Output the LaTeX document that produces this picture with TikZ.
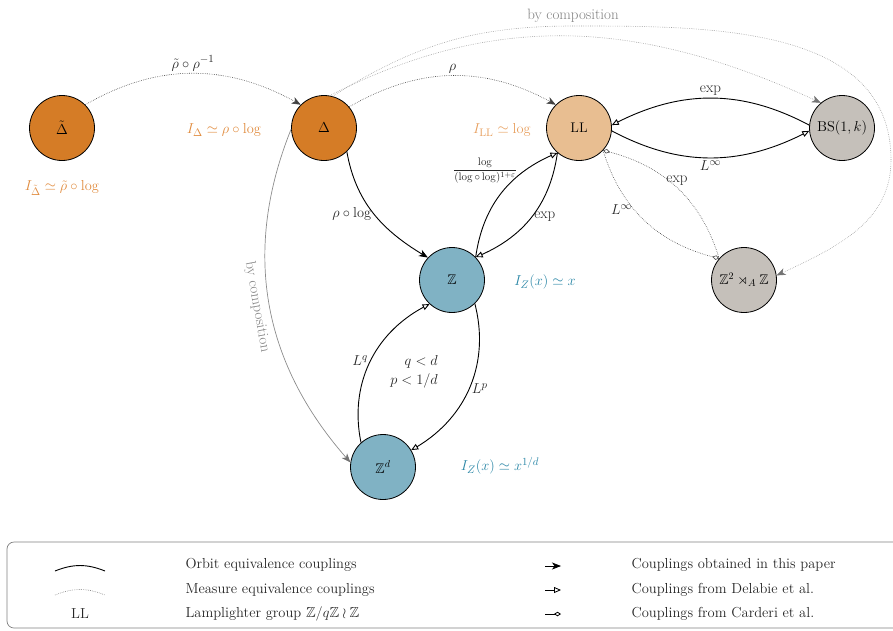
\documentclass[tikz,border=0pt]{standalone}
\usepackage{amsmath,amssymb}
\usetikzlibrary{arrows.meta,bending}
\definecolor{dorange}{HTML}{D57C26}
\definecolor{lorange}{HTML}{E8BE91}
\definecolor{ggray}{HTML}{C5C0BA}
\definecolor{gblue}{HTML}{80B2C4}
\definecolor{tblue}{HTML}{2A86A6}
\definecolor{torange}{HTML}{E08A3C}
\definecolor{torange2}{HTML}{E79F5E}
\begin{document}
\begin{tikzpicture}[x=1pt,y=-1pt,font=\fontsize{15}{17}\selectfont,
  grp/.style={circle,draw=black,line width=0.8pt,minimum size=65pt,inner sep=0pt,font=\fontsize{14}{16}\selectfont},
  oe/.style={line width=0.9pt,black},
  me/.style={line width=0.6pt,black!75,dash pattern=on 0.6pt off 1.2pt},
  mecomp/.style={line width=0.6pt,black!40,dash pattern=on 0.6pt off 1.2pt},
  comp/.style={line width=0.7pt,black!45},
  ours/.style={-{Stealth[length=9pt,width=7pt,inset=2.5pt]}},
  compt/.style={-{Stealth[length=9pt,width=7pt,inset=2.5pt,black!55]}},
  dela/.style={-{Triangle[open,length=7pt,width=6pt,fill=white]}},
  card/.style={-{Diamond[open,length=7pt,width=4.5pt,fill=white]}},
  lab/.style={text=black!85,inner sep=2pt},
  legtext/.style={anchor=west,text=black!85,font=\fontsize{14.5}{16}\selectfont},
]
\useasboundingbox (0,0) rectangle (893,630);

% groups
\node[grp,fill=dorange] (dt) at (62,128) {$\tilde\Delta$};
\node[grp,fill=dorange] (d) at (324,128) {$\Delta$};
\node[grp,fill=lorange] (ll) at (579,128) {LL};
\node[grp,fill=ggray] (bs) at (842,128) {$\mathrm{BS}(1,k)$};
\node[grp,fill=gblue] (z) at (452,280) {$\mathbb{Z}$};
\node[grp,fill=ggray] (zz) at (744,280) {$\mathbb{Z}^2\rtimes_A\mathbb{Z}$};
\node[grp,fill=gblue] (zd) at (383,467) {$\mathbb{Z}^d$};

% isoperimetric profiles
\node[text=torange] (idt) at (62,188) {$I_{\tilde\Delta}\simeq\tilde\rho\circ\log$};
\node[text=torange] (id) at (224,130) {$I_\Delta\simeq\rho\circ\log$};
\node[text=torange2] (ill) at (502,130) {$I_{\mathrm{LL}}\simeq\log$};
\node[text=tblue] (iz) at (545,282) {$I_Z(x)\simeq x$};
\node[text=tblue] (izd) at (500,466) {$I_Z(x)\simeq x^{1/d}$};

% measure equivalence (this paper)
\draw[me,ours] (dt.45) to[out=30,in=150] node[lab,above]{$\tilde\rho\circ\rho^{-1}$} (d.135);
\draw[me,ours] (d.40) to[out=30,in=150] node[lab,above]{$\rho$} (ll.135);

% by composition
\coordinate (c1) at (573,26);
\coordinate (c2) at (891,160);
\draw[mecomp,compt] (d.80) to[out=27,in=155] (bs.130);
\draw[mecomp,compt] (d.75) to[out=32,in=180] (c1) to[out=0,in=90] (c2) to[out=-90,in=25] (zz.8);
\node[text=black!50,above] (bc1) at (c1) {by composition};
\draw[comp,compt] (d.182) to[bend right=32] node[sloped,below,pos=0.5,inner sep=5pt,text=black!50]{by composition} (zd.172);

% orbit equivalence
\draw[oe,ours] (d.-46) to[out=-80,in=150] node[lab,left,pos=0.5]{$\rho\circ\log$} (z.137);
\draw[oe,dela] (z.44) to[bend left=30] node[lab,left,pos=0.74,xshift=-5pt,font=\fontsize{11}{12}\selectfont]{$\dfrac{\log}{(\log\circ\log)^{1+\varepsilon}}$} (ll.-131);
\draw[oe,dela] (ll.-131) to[bend left=30] node[lab,right,pos=0.5]{exp} (z.44);
\draw[oe,dela] (bs.175) to[bend right=28] node[lab,above]{exp} (ll.5);
\draw[oe,dela] (ll.-5) to[bend right=28] node[lab,below]{$L^\infty$} (bs.185);
\draw[oe,dela] (z.-46) to[bend left=38] node[lab,right,pos=0.5]{$L^p$} (zd.31);
\draw[oe,dela] (zd.132) to[bend left=38] node[lab,left,pos=0.5]{$L^q$} (z.-133);
\node[lab,align=right,anchor=east] (cond) at (440,372) {$q<d$\\[2pt]$p<1/d$};

% Carderi et al.
\draw[me,card] (ll.-43) to[bend right=30] node[lab,left,pos=0.4]{$L^\infty$} (zz.139);
\draw[me,card] (zz.139) to[bend right=30] node[lab,above,pos=0.5]{exp} (ll.-43);

% legend
\draw[black!50,rounded corners=7pt,line width=0.7pt] (7,542) rectangle (910,628);
\coordinate (l1a) at (55,571); \coordinate (l1b) at (105,571);
\coordinate (l2a) at (55,595); \coordinate (l2b) at (105,595);
\draw[oe] (l1a) to[bend left=22] (l1b);
\draw[me,black!55] (l2a) to[bend left=22] (l2b);
\node[text=black!85,font=\fontsize{14.5}{16}\selectfont] (lll) at (80,614) {LL};
\node[legtext] (t1) at (182,565) {Orbit equivalence couplings};
\node[legtext] (t2) at (182,590) {Measure equivalence couplings};
\node[legtext] (t3) at (182,614) {Lamplighter group $\mathbb{Z}/q\mathbb{Z}\wr\mathbb{Z}$};
\coordinate (a1a) at (545,566); \coordinate (a1b) at (561,566);
\coordinate (a2a) at (545,590); \coordinate (a2b) at (561,590);
\coordinate (a3a) at (545,614); \coordinate (a3b) at (561,614);
\draw[line width=0.8pt,ours] (a1a) -- (a1b);
\draw[line width=0.8pt,dela] (a2a) -- (a2b);
\draw[line width=0.8pt,card] (a3a) -- (a3b);
\node[legtext] (t4) at (628,565) {Couplings obtained in this paper};
\node[legtext] (t5) at (628,590) {Couplings from Delabie et al.};
\node[legtext] (t6) at (628,614) {Couplings from Carderi et al.};
\end{tikzpicture}
\end{document}
